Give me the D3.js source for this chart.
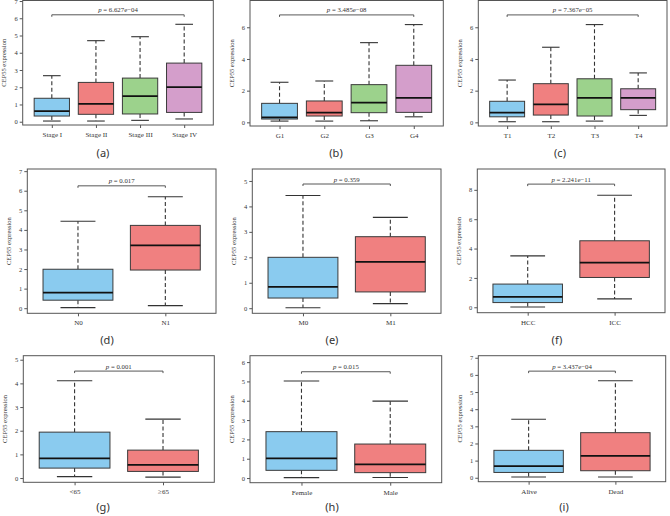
<!DOCTYPE html>
<html><head><meta charset="utf-8">
<script src="https://cdn.jsdelivr.net/npm/d3@7"></script>
<style>body{margin:0;background:#fff}svg{display:block}</style>
</head><body>
<svg id="c" width="670" height="516"></svg>
<script>
// ---- data (lower whisker, Q1, median, Q3, upper whisker) ----
const catsA = ["Stage I","Stage II","Stage III","Stage IV"];
const boxA = [[0.04,0.33,0.62,1.36,2.67],[0.04,0.43,1.04,2.28,4.70],[0.08,0.45,1.49,2.53,4.93],[0.16,0.54,2.01,3.40,5.65]];
const ticksA = [0,1,2,3,4,5,6,7];
const pA = ["6.627e\u221204", 6.2];

const catsB = ["G1","G2","G3","G4"];
const boxB = [[0.08,0.21,0.32,1.20,2.53],[0.08,0.40,0.61,1.35,2.61],[0.10,0.61,1.24,2.38,5.03],[0.35,0.63,1.55,3.60,6.17]];
const ticksB = [0,2,4,6];
const pB = ["3.485e\u221208", 6.78];

const catsC = ["T1","T2","T3","T4"];
const boxC = [[0.04,0.35,0.61,1.33,2.67],[0.04,0.46,1.14,2.44,4.74],[0.08,0.40,1.55,2.75,6.17],[0.44,0.80,1.55,2.12,3.12]];
const ticksC = [0,2,4,6];
const pC = ["7.367e\u221205", 6.78];

const catsD = ["N0","N1"];
const boxD = [[0.03,0.41,0.80,1.99,4.44],[0.13,1.95,3.21,4.23,5.69]];
const ticksD = [0,1,2,3,4,5,6,7];
const pD = ["0.017", 6.25];

const catsE = ["M0","M1"];
const boxE = [[0.02,0.40,0.84,2.00,4.43],[0.18,0.64,1.82,2.81,3.57]];
const ticksE = [0,1,2,3,4,5];
const pE = ["0.359", 4.88];

const catsF = ["HCC","ICC"];
const boxF = [[0.02,0.32,0.71,1.58,3.50],[0.57,2.03,3.04,4.53,7.63]];
const ticksF = [0,2,4,6,8];
const pF = ["2.241e\u221211", 8.39];

const catsG = ["<65","\u226565"];
const boxG = [[0.06,0.42,0.83,1.94,4.11],[0.04,0.28,0.56,1.18,2.49]];
const ticksG = [0,1,2,3,4,5];
const pG = ["0.001", 4.52];

const catsH = ["Female","Male"];
const boxH = [[0.02,0.40,1.02,2.40,5.02],[0.03,0.28,0.71,1.76,3.98]];
const ticksH = [0,1,2,3,4,5,6];
const pH = ["0.015", 5.5];

const catsI = ["Alive","Dead"];
const boxI = [[0.04,0.31,0.68,1.60,3.41],[0.04,0.41,1.28,2.63,5.66]];
const ticksI = [0,1,2,3,4,5,6,7];
const pI = ["3.437e\u221204", 6.22];

const fills = ["#8ACBEF","#F08080","#9CD28C","#D49ECB"];
const yTitle = "CEP55 expression";

// ---- layout (frame left, right, top, bottom; y domain; caption) ----
const panels = [
  {cats:catsA, box:boxA, ticks:ticksA, p:pA, f:[22.7,213.3,0.5,125],   yd:[-0.19,7.03], cap:"(a)", cx:103, cy:157},
  {cats:catsB, box:boxB, ticks:ticksB, p:pB, f:[250,443.3,0.5,126],    yd:[-0.23,7.69], cap:"(b)", cx:336, cy:157},
  {cats:catsC, box:boxC, ticks:ticksC, p:pC, f:[478.3,667,0.5,126],    yd:[-0.23,7.69], cap:"(c)", cx:560, cy:157},
  {cats:catsD, box:boxD, ticks:ticksD, p:pD, f:[27.3,216,169,313.3],   yd:[-0.26,7.11], cap:"(d)", cx:107, cy:344},
  {cats:catsE, box:boxE, ticks:ticksE, p:pE, f:[252.3,441,169,313.3],  yd:[-0.20,5.47], cap:"(e)", cx:332, cy:344},
  {cats:catsF, box:boxF, ticks:ticksF, p:pF, f:[477.3,665,169,312.7],  yd:[-0.37,9.42], cap:"(f)", cx:557, cy:344},
  {cats:catsG, box:boxG, ticks:ticksG, p:pG, f:[23.3,214.3,355.7,482.3], yd:[-0.18,5.17], cap:"(g)", cx:103, cy:511},
  {cats:catsH, box:boxH, ticks:ticksH, p:pH, f:[250,441.7,355.7,482.7],  yd:[-0.24,6.33], cap:"(h)", cx:332, cy:511},
  {cats:catsI, box:boxI, ticks:ticksI, p:pI, f:[478.3,665.7,355.7,481.7], yd:[-0.23,7.12], cap:"(i)", cx:564, cy:511}
];

const svg = d3.select("#c");
const serif = "'Liberation Serif','Times New Roman',serif";

panels.forEach(P => {
  const [L,R,T,B] = P.f;
  const n = P.cats.length;
  const ext = 0.04*n;
  const x = d3.scaleLinear().domain([0.5-ext, n+0.5+ext]).range([L,R]);
  const y = d3.scaleLinear().domain(P.yd).range([B,T]);
  const g = svg.append("g");
  const bw = 0.8, sw = 0.4;

  P.box.forEach((s,i) => {
    const c = i+1;
    const [lo,q1,md,q3,hi] = s;
    g.append("line").attr("x1",x(c)).attr("x2",x(c)).attr("y1",y(q3)).attr("y2",y(hi))
      .attr("stroke","#333").attr("stroke-width",1.1).attr("stroke-dasharray","4,2.5");
    g.append("line").attr("x1",x(c)).attr("x2",x(c)).attr("y1",y(q1)).attr("y2",y(lo))
      .attr("stroke","#333").attr("stroke-width",1.1).attr("stroke-dasharray","4,2.5");
    [lo,hi].forEach(v => g.append("line").attr("x1",x(c-sw/2)).attr("x2",x(c+sw/2))
      .attr("y1",y(v)).attr("y2",y(v)).attr("stroke","#333").attr("stroke-width",1.1));
    g.append("rect").attr("x",x(c-bw/2)).attr("width",x(c+bw/2)-x(c-bw/2))
      .attr("y",y(q3)).attr("height",y(q1)-y(q3))
      .attr("fill",fills[i]).attr("stroke","#3a3a3a").attr("stroke-width",1);
    g.append("line").attr("x1",x(c-bw/2)).attr("x2",x(c+bw/2)).attr("y1",y(md)).attr("y2",y(md))
      .attr("stroke","#111").attr("stroke-width",1.8);
  });

  g.append("rect").attr("x",L).attr("y",T).attr("width",R-L).attr("height",B-T)
    .attr("fill","none").attr("stroke","#555").attr("stroke-width",1);

  const ya = d3.axisLeft(y).tickValues(P.ticks).tickSize(3).tickPadding(2).tickFormat(d3.format("d"));
  const yg = g.append("g").attr("transform",`translate(${L},0)`).call(ya);
  yg.select(".domain").remove();
  yg.selectAll("line").attr("stroke","#555");
  yg.selectAll("text").attr("font-family",serif).attr("font-size",6.5).attr("fill","#333");

  const xa = d3.axisBottom(x).tickValues(d3.range(1,n+1)).tickSize(3).tickPadding(4)
    .tickFormat(d => P.cats[d-1]);
  const xg = g.append("g").attr("transform",`translate(0,${B})`).call(xa);
  xg.select(".domain").remove();
  xg.selectAll("line").attr("stroke","#555");
  xg.selectAll("text").attr("font-family",serif).attr("font-size",7).attr("fill","#333");

  g.append("text").attr("transform",`translate(${L-16.5},${(T+B)/2}) rotate(-90)`)
    .attr("text-anchor","middle").attr("font-family",serif).attr("font-size",6.5)
    .attr("fill","#333").text(yTitle);

  const yb = y(P.p[1]);
  g.append("path").attr("d",`M${x(1)},${yb+2}V${yb}H${x(n)}V${yb+2}`)
    .attr("fill","none").attr("stroke","#444").attr("stroke-width",0.9);
  const t = g.append("text").attr("x",(x(1)+x(n))/2).attr("y",yb-2.5).attr("text-anchor","middle")
    .attr("font-family",serif).attr("font-size",6.8).attr("fill","#333");
  t.append("tspan").attr("font-style","italic").text("p");
  t.append("tspan").text(" = " + P.p[0]);

  g.append("text").attr("x",P.cx).attr("y",P.cy).attr("text-anchor","middle")
    .attr("font-family","'Noto Sans','DejaVu Sans',sans-serif").attr("font-size",11)
    .attr("fill","#333").text(P.cap);
});
</script>
</body></html>
